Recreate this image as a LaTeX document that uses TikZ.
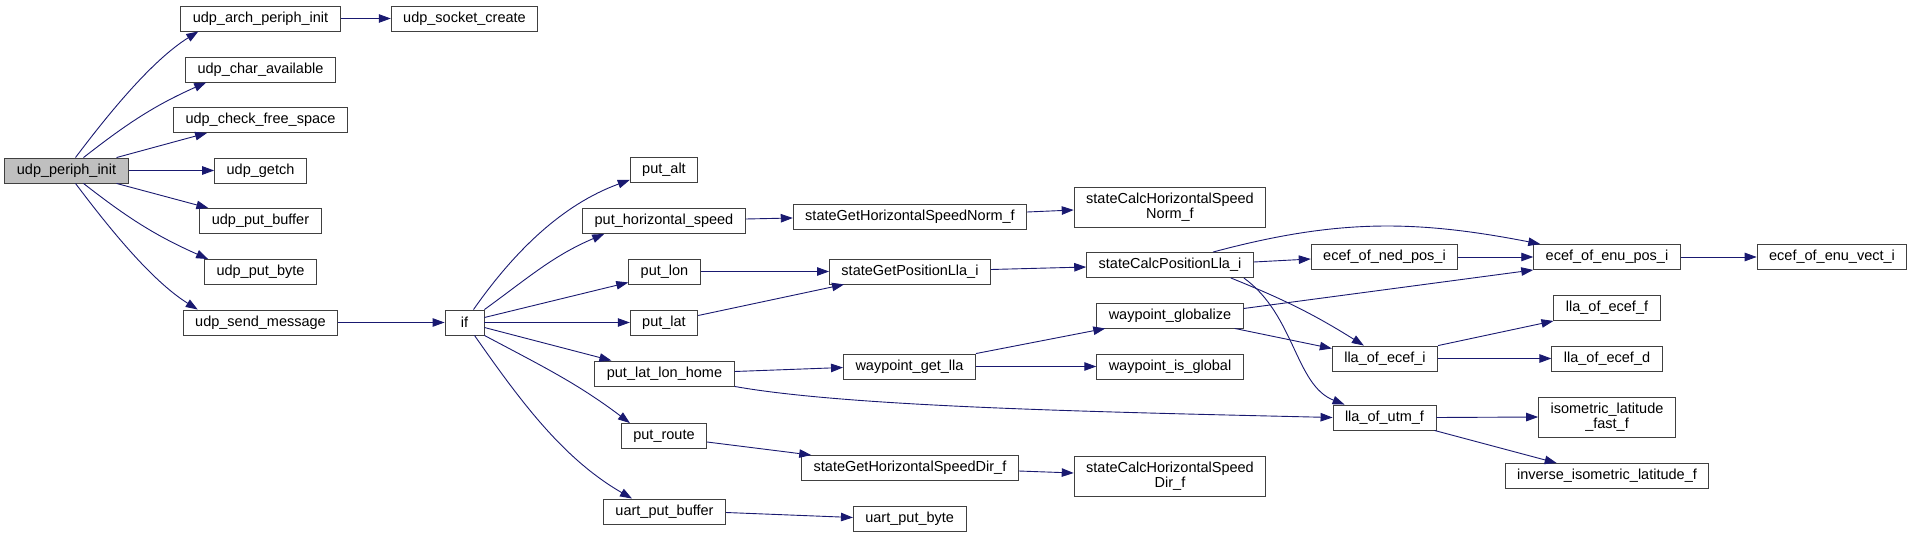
\documentclass[tikz,border=0pt]{standalone}
\usepackage{fontspec}
\setmainfont{Liberation Sans}
\usetikzlibrary{arrows.meta}
\definecolor{edgeblue}{HTML}{191970}
\definecolor{rootgray}{HTML}{BFBFBF}
\definecolor{boxline}{HTML}{404040}
\newcommand{\graphfont}{\fontsize{14.5}{14.5}\selectfont}
\begin{document}
\begin{tikzpicture}[
        x=1pt, y=-1pt,
        box/.style={rectangle, draw=boxline, line width=0.9pt, fill=white, minimum height=25pt, inner xsep=12pt, inner ysep=0pt, font=\graphfont},
        tallbox/.style={box, minimum height=40pt, align=center},
        root/.style={box, fill=rootgray},
        arrow/.style={-{Triangle[length=12pt, width=8.5pt]}, draw=edgeblue, line width=0.9pt}
    ]
        \useasboundingbox (0,0) rectangle (1911,537);

        \node[root] (periph) at (66.5,170.5) {udp\_periph\_init};
        \node[box] (arch) at (260.5,18.5) {udp\_arch\_periph\_init};
        \node[box] (sock) at (464.5,18.5) {udp\_socket\_create};
        \node[box] (charav) at (260.5,69.5) {udp\_char\_available};
        \node[box] (freesp) at (260.5,120) {udp\_check\_free\_space};
        \node[box] (getch) at (260.5,170.5) {udp\_getch};
        \node[box] (putbuf) at (260.5,221) {udp\_put\_buffer};
        \node[box] (putbyte) at (260.5,272) {udp\_put\_byte};
        \node[box] (sendmsg) at (260.5,322.5) {udp\_send\_message};
        \node[box, minimum width=39pt] (cif) at (464.5,322.5) {if};
        \node[box] (alt) at (664,170) {put\_alt};
        \node[box] (hspeed) at (664,221) {put\_horizontal\_speed};
        \node[box] (lon) at (664.5,271.5) {put\_lon};
        \node[box] (lat) at (664,322.5) {put\_lat};
        \node[box] (home) at (664.5,373.5) {put\_lat\_lon\_home};
        \node[box] (route) at (664,436) {put\_route};
        \node[box] (uartbuf) at (664.5,511.5) {uart\_put\_buffer};
        \node[box] (sghsn) at (910,217) {stateGetHorizontalSpeedNorm\_f};
        \node[box] (sgpl) at (910,271.5) {stateGetPositionLla\_i};
        \node[box] (wgl) at (909.5,366.5) {waypoint\_get\_lla};
        \node[box] (sghsd) at (910,468) {stateGetHorizontalSpeedDir\_f};
        \node[box] (uartbyte) at (909.7,518.5) {uart\_put\_byte};
        \node[tallbox] (schsn) at (1170,207) {stateCalcHorizontalSpeed\\Norm\_f};
        \node[box] (scpl) at (1170,265) {stateCalcPositionLla\_i};
        \node[box] (wglob) at (1170,315.5) {waypoint\_globalize};
        \node[box] (wisg) at (1170,366.5) {waypoint\_is\_global};
        \node[tallbox] (schsd) at (1170,476) {stateCalcHorizontalSpeed\\Dir\_f};
        \node[box] (ned) at (1384.5,257) {ecef\_of\_ned\_pos\_i};
        \node[box] (llaei) at (1385,358.5) {lla\_of\_ecef\_i};
        \node[box] (utm) at (1384.5,417.5) {lla\_of\_utm\_f};
        \node[box] (enupos) at (1607,257) {ecef\_of\_enu\_pos\_i};
        \node[box] (llaef) at (1607,308) {lla\_of\_ecef\_f};
        \node[box] (llaed) at (1607,358.5) {lla\_of\_ecef\_d};
        \node[tallbox] (isof) at (1607,417) {isometric\_latitude\\\_fast\_f};
        \node[box] (invf) at (1607,476) {inverse\_isometric\_latitude\_f};
        \node[box] (vect) at (1832,257) {ecef\_of\_enu\_vect\_i};

        \draw[arrow] ([xshift=9pt]periph.north) to[out=53, in=212, looseness=0.8] ([xshift=18pt]arch.south west);
        \draw[arrow] ([xshift=17pt]periph.north) to[out=38, in=204] ([xshift=21pt]charav.south west);
        \draw[arrow] ([xshift=-12pt]periph.north east) -- ([xshift=34pt]freesp.south west);
        \draw[arrow] (periph.east) -- (getch.west);
        \draw[arrow] ([xshift=-12pt]periph.south east) -- ([xshift=9pt]putbuf.north west);
        \draw[arrow] ([xshift=17pt]periph.south) to[out=-38, in=156] ([xshift=4pt]putbyte.north west);
        \draw[arrow] ([xshift=9pt]periph.south) to[out=-53, in=148, looseness=0.8] ([xshift=15pt]sendmsg.north west);
        \draw[arrow] (arch.east) -- (sock.west);
        \draw[arrow] (sendmsg.east) -- (cif.west);
        \draw[arrow] ([xshift=9pt]cif.north) to[out=55, in=200, looseness=0.9] ([yshift=3pt]alt.south west);
        \draw[arrow] (cif.north east) to[out=36, in=203] ([xshift=22pt]hspeed.south west);
        \draw[arrow] ([yshift=5pt]cif.east) -- ([yshift=2pt]lon.south west);
        \draw[arrow] (cif.east) -- (lat.west);
        \draw[arrow] ([yshift=-5pt]cif.east) -- ([xshift=17pt]home.north west);
        \draw[arrow] (cif.south east) to[out=-28, in=143] ([xshift=9pt]route.north west);
        \draw[arrow] ([xshift=10pt]cif.south) to[out=-55, in=150, looseness=0.9] ([xshift=29pt]uartbuf.north west);
        \draw[arrow] ([yshift=2pt]hspeed.east) -- ([yshift=-1pt]sghsn.west);
        \draw[arrow] ([yshift=5pt]sghsn.east) -- ([yshift=-3pt]schsn.west);
        \draw[arrow] (lon.east) -- (sgpl.west);
        \draw[arrow] ([yshift=7pt]lat.east) -- ([xshift=15pt]sgpl.south west);
        \draw[arrow] ([yshift=2pt]sgpl.east) -- ([yshift=-2pt]scpl.west);
        \draw[arrow] ([yshift=3pt]scpl.east) -- ([yshift=-2pt]ned.west);
        \draw[arrow] ([xshift=43pt]scpl.north) to[out=15, in=169] ([xshift=7pt]enupos.north west);
        \draw[arrow] ([xshift=-23pt]scpl.south east) to[out=-22, in=148] ([xshift=32pt]llaei.north west);
        \draw[arrow] ([xshift=-10pt]scpl.south east) .. controls (1295,315) and (1295,385) .. ([xshift=12pt]utm.north west);
        \draw[arrow] ([yshift=7pt]wglob.east) -- (enupos.south west);
        \draw[arrow] ([xshift=-9pt]wglob.south east) -- ([yshift=10pt]llaei.west);
        \draw[arrow] (wgl.north east) -- ([xshift=9pt]wglob.south west);
        \draw[arrow] (wgl.east) -- (wisg.west);
        \draw[arrow] ([yshift=2pt]home.east) -- ([yshift=-1pt]wgl.west);
        \draw[arrow] (home.south east) .. controls (850,407) and (1100,412) .. (utm.west);
        \draw[arrow] ([yshift=-6pt]route.east) -- ([xshift=10pt]sghsd.north west);
        \draw[arrow] ([yshift=-3pt]sghsd.east) -- ([yshift=3pt]schsd.west);
        \draw[arrow] ([yshift=-1pt]uartbuf.east) -- ([yshift=1pt]uartbyte.west);
        \draw[arrow] (ned.east) -- (enupos.west);
        \draw[arrow] (enupos.east) -- (vect.west);
        \draw[arrow] (llaei.north east) -- (llaef.south west);
        \draw[arrow] (llaei.east) -- (llaed.west);
        \draw[arrow] (utm.east) -- (isof.west);
        \draw[arrow] ([xshift=-2pt]utm.south east) -- ([xshift=52pt]invf.north west);
    \end{tikzpicture}
\end{document}
